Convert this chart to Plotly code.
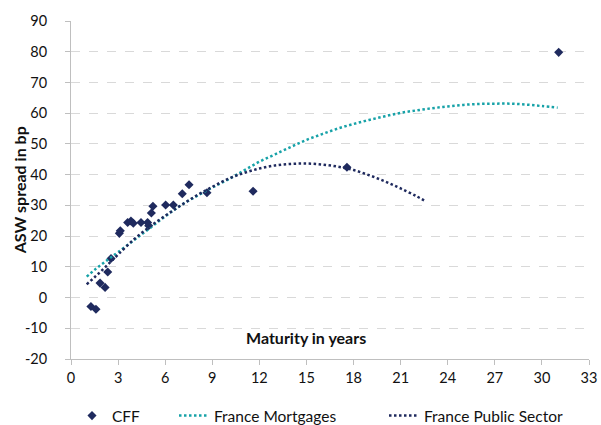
import plotly.graph_objects as go

# CFF bond points (maturity in years, ASW spread in bp)
cff_x = [1.27, 1.59, 1.85, 2.17, 2.34, 2.55, 3.08, 3.14, 3.61, 3.82, 3.97, 4.46, 4.88, 4.95,
         5.12, 5.22, 6.03, 6.52, 7.09, 7.52, 8.66, 11.6, 17.58, 31.07]
cff_y = [-2.9, -3.8, 4.7, 3.3, 8.3, 12.7, 20.9, 21.7, 24.4, 24.9, 24.2, 24.4, 24.4, 23.4,
         27.5, 29.7, 30.1, 30.1, 33.8, 36.7, 34.1, 34.6, 42.4, 79.8]

# France Mortgages curve
mort_x = [1, 1.5, 2, 2.5, 3, 4, 5, 6, 7, 8, 9, 10, 11, 12, 13, 14, 15, 16, 17, 18, 19, 20,
          21, 22, 23, 24, 25, 26, 27, 28, 29, 30, 31]
mort_y = [6.8, 9.0, 11.0, 12.9, 14.8, 18.6, 22.5, 26.4, 30.0, 33.0, 35.8, 38.4, 41.3, 44.2,
          46.6, 49.0, 51.3, 53.2, 55.0, 56.5, 57.8, 59.0, 60.1, 60.9, 61.6, 62.2, 62.7,
          63.0, 63.1, 63.1, 62.8, 62.3, 61.8]

# France Public Sector curve
pub_x = [1, 1.5, 2, 2.5, 3, 4, 5, 6, 7, 8, 9, 10, 11, 12, 13, 14, 15, 16, 17, 18, 19, 20,
         21, 22, 22.6]
pub_y = [4.3, 6.6, 9.0, 11.5, 14.0, 18.9, 23.0, 26.6, 30.0, 33.2, 36.0, 38.6, 40.5, 42.0,
         43.0, 43.5, 43.6, 43.3, 42.6, 41.5, 39.8, 37.8, 35.5, 33.0, 31.3]

x_ticks = [0, 3, 6, 9, 12, 15, 18, 21, 24, 27, 30, 33]
y_ticks = [-20, -10, 0, 10, 20, 30, 40, 50, 60, 70, 80, 90]
y_tick_labels = ["-20", "-10", "0", "10", "20", "30", "40", "50", "60", "70", "80", "90"]

NAVY = "#1f2a5e"
TEAL = "#17a2a8"
FONT = "Lato"
TXT = "#111111"
W, H = 601, 425
L, R, T, B = 70.7, 12, 21, 65.5
PW = W - L - R

fig = go.Figure()
fig.add_trace(go.Scatter(
    x=cff_x, y=cff_y, mode="markers", name="CFF", legend="legend",
    marker=dict(symbol="diamond", size=7, color=NAVY),
))
fig.add_trace(go.Scatter(
    x=mort_x, y=mort_y, mode="lines", name="France Mortgages", line_shape="spline",
    legend="legend2",
    line=dict(color=TEAL, width=2.5, dash="2.5px,2.5px"),
))
fig.add_trace(go.Scatter(
    x=pub_x, y=pub_y, mode="lines", name="France Public Sector", line_shape="spline",
    legend="legend3",
    line=dict(color=NAVY, width=2.5, dash="2.5px,2.5px"),
))

fig.add_annotation(
    x=15, y=-13, xref="x", yref="y", text="<b>Maturity in years</b>",
    showarrow=False, font=dict(family=FONT, size=16, color=TXT),
)
fig.add_annotation(
    x=(19 - L) / PW, y=0.5, xref="paper", yref="paper", text="<b>ASW spread in bp</b>",
    textangle=-90, showarrow=False, xanchor="center", yanchor="middle",
    font=dict(family=FONT, size=16, color=TXT),
)

leg_common = dict(xref="container", yref="container", xanchor="left", yanchor="middle",
                  y=(H - 416) / H, bgcolor="rgba(0,0,0,0)",
                  font=dict(family=FONT, size=15.5, color=TXT))

fig.update_layout(
    width=W, height=H,
    margin=dict(l=L, r=R, t=T, b=B, autoexpand=False),
    paper_bgcolor="white", plot_bgcolor="white",
    font=dict(family=FONT, size=14.5, color=TXT),
    showlegend=True,
    legend=dict(x=72 / W, **leg_common),
    legend2=dict(x=174 / W, **leg_common),
    legend3=dict(x=384 / W, **leg_common),
    xaxis=dict(range=[0, 33], tickvals=x_ticks, showgrid=False, zeroline=False,
               automargin=False,
               showline=True, linecolor="#bfbfbf", linewidth=1, ticks="outside",
               ticklen=5, tickcolor="#bfbfbf", tickfont=dict(size=14.5, color=TXT),
               ticklabelstandoff=1),
    yaxis=dict(range=[-20, 90], tickvals=y_ticks, ticktext=y_tick_labels,
               showgrid=True, gridcolor="#d9d9d9",
               griddash="dash", gridwidth=1, zeroline=False, showline=True,
               automargin=False,
               linecolor="#bfbfbf", linewidth=1, ticks="outside", ticklen=5,
               tickcolor="#bfbfbf", tickfont=dict(size=14.5, color=TXT),
               ticklabelstandoff=15),
)

fig.write_html(
    "out.html",
    config={"displayModeBar": False},
    post_script="document.body.style.margin='0';document.body.style.overflow='hidden';",
)
